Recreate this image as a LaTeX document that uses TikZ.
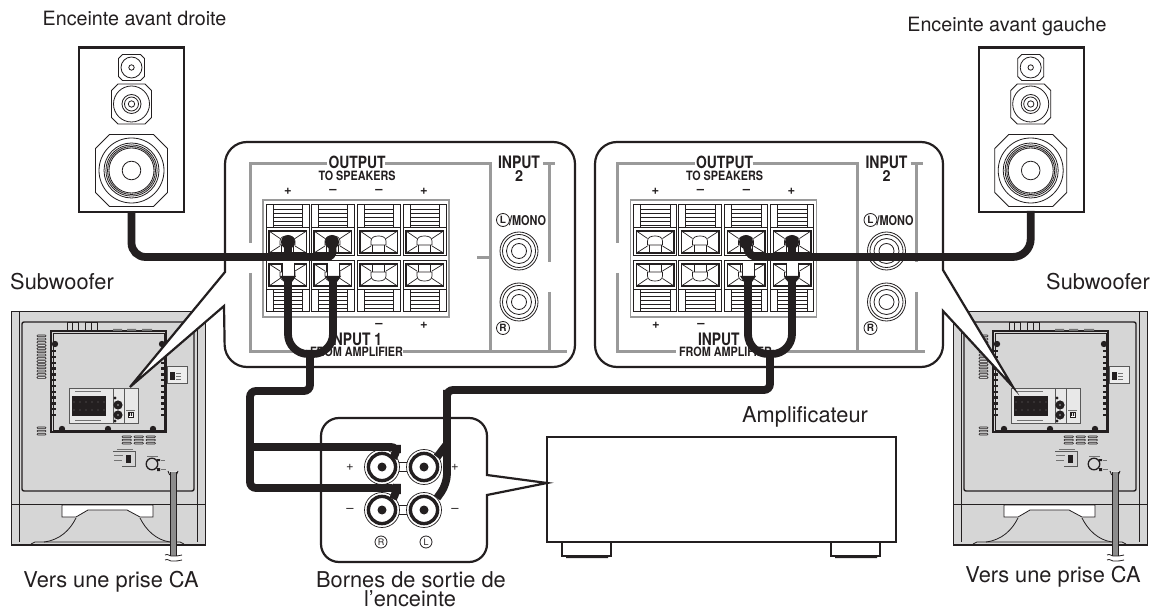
\documentclass[tikz,border=0pt]{standalone}
\usepackage{fontspec}
\setmainfont{TeX Gyre Heros}
\definecolor{ink}{HTML}{231F20}
\definecolor{rule}{HTML}{9A9A9A}
\definecolor{subg}{HTML}{D6D6D6}
\tikzset{
  cable/.style={draw=ink,line width=7.8pt,rounded corners=10pt},
  heavy/.style={draw=ink,line width=2.6pt},
  panel/.style={draw=ink,line width=2.2pt,fill=white,line join=miter},
  fine/.style={draw=ink,line width=.8pt},
  grayline/.style={draw=rule,line width=3pt},
  caption/.style={inner sep=0pt,anchor=base,font=\fontsize{21.8}{24}\selectfont,text=ink},
  caption2/.style={inner sep=0pt,anchor=base,font=\fontsize{19.7}{22}\selectfont,text=ink},
  tinylbl/.style={inner sep=0pt,anchor=center,text=ink},
  signmark/.style={inner sep=0pt,font=\fontsize{13}{13}\selectfont\bfseries,text=ink},
  ringlbl/.style={circle,draw=ink,line width=.8pt,inner sep=0pt,minimum size=13pt,font=\fontsize{10}{10}\selectfont\bfseries,text=ink}
}
\newcommand\fitlbl[3]{\resizebox{#1pt}{#2pt}{\bfseries #3}}
% octagon: cx cy half cut
\newcommand\octa[4]{\draw[fine] ({#1-#3},{#2-#3+#4}) -- ({#1-#3+#4},{#2-#3}) -- ({#1+#3-#4},{#2-#3}) -- ({#1+#3},{#2-#3+#4}) -- ({#1+#3},{#2+#3-#4}) -- ({#1+#3-#4},{#2+#3}) -- ({#1-#3+#4},{#2+#3}) -- ({#1-#3},{#2+#3-#4}) -- cycle;}
\newcommand\speaker[3]{%
  \draw[heavy,fill=white] (#1,47.5) rectangle (#2,212);
  \octa{#3}{67.5}{13}{4}
  \draw[fine] (#3,67.5) circle (10.5) (#3,67.5) circle (2.7);
  \octa{#3}{104}{20}{6.5}
  \draw[fine] (#3,104) circle (18) (#3,104) circle (9.5) (#3,104) circle (7) (#3,104) circle (3.2);
  \octa{#3}{170.5}{36}{14}
  \draw[fine] (#3,170.5) circle (32.5) (#3,170.5) circle (27.5) (#3,170.5) circle (25.6) (#3,170.5) circle (24) (#3,170.5) circle (22.5) (#3,170.5) circle (9.3);
}
% one terminal cell, x, y0, sign
\newcommand\cellbox[3]{%
\begin{scope}[shift={(#1,#2)},yscale=#3]
  \draw[draw=ink,line width=1pt,fill=white] (0,0) rectangle (43,51);
  \draw[fine] (0,22.5) -- (43,22.5) (7,0) -- (7,22.5) (36.5,0) -- (36.5,22.5);
  \foreach \yy in {4,8,12,16,20}{\draw[draw=ink,line width=.6pt] (7,\yy) -- (36.5,\yy);}
  \draw[draw=ink,line width=1.1pt] (3,26) rectangle (40.5,48);
  \draw[draw=ink,line width=.7pt] (3,26) -- (14,33.5) (3,48) -- (14,41) (40.5,26) -- (29,33.5) (40.5,48) -- (29,41);
  \draw[draw=ink,line width=.7pt] (15.5,48) -- (15.5,40) (27.5,48) -- (27.5,40);
  \draw[draw=ink,line width=.7pt] (14,40) -- (14,36) .. controls (14,32) and (18,31) .. (21.5,31) .. controls (25,31) and (29,32) .. (29,36) -- (29,40) -- cycle;
\end{scope}}
\newcommand\terminalpanel[2]{% x offset, name prefix: contents of the framed panel
\begin{scope}[shift={(#1,0)}]
  \draw[grayline] (327,163.5) -- (250,163.5) -- (250,243);
  \draw[grayline] (250,273) -- (250,352) -- (306,352);
  \draw[grayline] (385,163.5) -- (490,163.5) -- (490,352);
  \draw[grayline] (477,258) -- (490,258);
  \draw[grayline] (543,163.5) -- (555,163.5);
  \draw[grayline] (549,163.5) -- (549,262);
  \draw[grayline] (549,292) -- (549,352);
  \node[tinylbl] (#2o) at (357,162) {\fitlbl{57}{12.5}{OUTPUT}};
  \node[tinylbl] (#2t) at (357,175.5) {\fitlbl{77}{9.5}{TO SPEAKERS}};
  \node[tinylbl] (#2i) at (519,162) {\fitlbl{42}{12.5}{INPUT}};
  \node[tinylbl] (#2j) at (519,176) {\fitlbl{8}{11}{2}};
  \node[ringlbl] (#2l) at (503,220) {L};
  \node[tinylbl] (#2m) at (527.5,220.5) {\fitlbl{37}{10}{/MONO}};
  \node[ringlbl] (#2r) at (503,328) {R};
  \draw[draw=rule,line width=1.2pt,fill=white] (263,200) rectangle (449,317);
  \foreach \cx in {266,311,357,403}{\cellbox{\cx}{205}{1}\cellbox{\cx}{312}{-1}}
  \foreach \yy in {251,302}{
    \draw[fine] (519,\yy) circle (19) (519,\yy) circle (16.5) (519,\yy) circle (12.5) (519,\yy) circle (7.5);
  }
  \node[signmark] (#2a) at (288,191) {+};
  \node[signmark] (#2b) at (333,191) {–};
  \node[signmark] (#2c) at (379,191) {–};
  \node[signmark] (#2d) at (424,191) {+};
\end{scope}}
\newcommand\subwoofer[1]{%
\begin{scope}[shift={(#1,0)}]
  \draw[draw=ink,line width=.8pt,fill=subg] (11,311) rectangle (205,545);
  \draw[draw=ink,line width=.8pt] (19,311) -- (19,504) (197,311) -- (197,504) (19,504) -- (19,542) (197,504) -- (197,542);
  \draw[draw=ink,line width=1.4pt,rounded corners=2pt] (22,322) rectangle (194,491);
  \draw[draw=ink,line width=1pt] (11,504) -- (205,504);
  \draw[draw=ink,line width=1.6pt] (11,545) -- (205,545);
  \draw[draw=ink,line width=.8pt,fill=white] (62,505) -- (153,505) -- (153,517) -- (140,517) -- (127,510) -- (88,510) -- (76,517) -- (62,517) -- cycle;
  \draw[fine] (76,518) .. controls (70,530) and (60,540) .. (44,542);
  \draw[fine] (140,518) .. controls (146,530) and (156,540) .. (170,542);
  \draw[fine] (31,544) -- (35,542) -- (180,542) -- (184,544);
  % rear plate
  \draw[draw=ink,line width=1.2pt] (51,331) rectangle (166,432);
  \draw[draw=ink,line width=.6pt] (53,333) rectangle (164,430);
  \draw[draw=ink,line width=.8pt,fill=subg] (67,322) rectangle (78,330);
  \draw[draw=ink,line width=.8pt,fill=subg] (85,322) rectangle (97,330);
  \draw[draw=ink,line width=.6pt] (72.5,322) -- (72.5,330) (91,322) -- (91,330);
  \fill[black!55] (113,329) rectangle (122,331) (127,329) rectangle (136,331) (142,329) rectangle (152,331);
  \foreach \xx/\yy in {55/344,162/344,62/429,108/429,153/429}{\fill[ink] (\xx,\yy) circle (3.2);}
  \foreach \yy in {350,355.8,...,418}{
    \fill[ink] (51,\yy) rectangle (56,{\yy+2.5});
    \fill[ink] (161,\yy) rectangle (166,{\yy+2.5});
  }
  \foreach \yy in {335,338.2,...,377}{\draw[draw=ink,line width=.6pt,rounded corners=.8pt] (37,\yy) rectangle (46,{\yy+1.8});}
  \foreach \yy in {427,430.2,433.4}{\draw[draw=ink,line width=.6pt,rounded corners=.8pt] (37,\yy) rectangle (46,{\yy+1.6});}
  \foreach \xx in {122,134,146}{\foreach \yy in {436,439.2,442.4}{\draw[draw=ink,line width=.6pt,rounded corners=.8pt] (\xx,\yy) rectangle ({\xx+9.5},{\yy+1.6});}}
  % connection block
  \draw[draw=black!65,line width=.6pt,fill=black!9] (69,388) rectangle (138,423);
  \draw[draw=black!65,line width=.6pt] (113,388) -- (113,423) (124,388) -- (124,423);
  \fill[ink] (71.5,396) rectangle (106,416);
  \foreach \yy in {402,410}{\foreach \xx in {74,80,...,104}{\fill[white] (\xx,\yy) circle (.4);}}
  \foreach \yy in {405,415}{\fill[ink] (118,\yy) circle (4.6); \fill[black!50] (118,\yy) circle (1.1);}
  \fill[ink] (115,398) circle (1.6) (115,421) circle (1.6);
  \draw[draw=ink,line width=.5pt,fill=white] (128,412) rectangle (133,417);
  \fill[ink] (129,413) rectangle (130.2,416) (131,413) rectangle (132.2,416);
  \draw[draw=black!55,line width=.4pt] (75,391) -- (101,391) (75,420) -- (101,420) (126,410) -- (135,410);
  % side switch
  \draw[draw=black!65,line width=.6pt,fill=black!7] (167,366) rectangle (187,383);
  \fill[ink] (170,372) rectangle (175,380);
  \draw[draw=black!55,line width=.4pt] (176,373) -- (181,373) (176,376) -- (181,376) (176,379) -- (181,379);
  % control box
  \draw[draw=black!65,line width=.5pt] (113,451) -- (135,451) -- (135,466) -- (122,466);
  \fill[ink] (125.5,455) rectangle (130.5,463);
  \draw[draw=black!55,line width=.4pt] (114,455) -- (123,455) (114,460) -- (122,460) (117,449) -- (133,449);
  \draw[draw=ink,line width=1.3pt,fill=subg] (152,464) circle (5.8);
  \fill[ink] (157,459) rectangle (160,461) (157,468) rectangle (160,471);
  \draw[draw=black!55,line width=.4pt] (161,460) -- (165,460) (161,469.5) -- (166,469.5) (147,456) -- (158,456);
  % mains lead
  \draw[draw=ink,line width=.9pt,fill=black!12] (168,471) arc[start angle=180,end angle=0,radius=5];
  \draw[draw=black!45,line width=5pt] (173,472) -- (173,556);
  \draw[draw=ink,line width=.9pt] (170,472) -- (170,556) (176,472) -- (176,556);
  \draw[fine] (165,555) .. controls (168,553) and (170,557) .. (173,556) .. controls (176,555) and (179,557) .. (182,555);
  \draw[fine] (165,560) .. controls (168,558) and (170,562) .. (173,561) .. controls (176,560) and (179,562) .. (182,560);
\end{scope}}
\begin{document}
\begin{tikzpicture}[x=1pt,y=-1pt]
\useasboundingbox (0,0) rectangle (1154,609);
\fill[white] (0,0) rectangle (1154,609);

% captions
\node[caption2] (capfr) at (134.5,26) {Enceinte avant droite};
\node[caption2] (capfl) at (1007,32) {Enceinte avant gauche};
\node[caption] (capsl) at (62,290) {Subwoofer};
\node[caption] (capsr) at (1098,290) {Subwoofer};
\node[caption] (capac) at (111,587) {Vers une prise CA};
\node[caption] (capar) at (1053,582) {Vers une prise CA};
\node[caption] (capb1) at (411,587) {Bornes de sortie de};
\node[caption] (capb2) at (410,606.5) {l’enceinte};
\node[caption] (capamp) at (805,423) {Amplificateur};

% speakers
\speaker{79}{184}{131.5}
\speaker{979}{1084}{1030.7}

% subwoofers
\subwoofer{0}
\subwoofer{942}

% framed panels with callouts
\draw[panel,rounded corners=22pt] (225,272) -- (225,142) -- (575,142) -- (575,367) -- (225,367) [rounded corners=0pt] -- (224,306) -- (130,387) -- cycle;
\draw[panel,rounded corners=22pt] (943,270) -- (943,142) -- (595,142) -- (595,367) -- (943,367) [rounded corners=0pt] -- (943,311) -- (1013,387) -- cycle;

\terminalpanel{0}{la}
\terminalpanel{367.5}{ra}

\draw[grayline] (403,352) -- (567,352);
\draw[grayline] (772,352) -- (925,352);
\draw[grayline] (618,352) -- (676,352);

\node[signmark] (lm1) at (379,325) {–};
\node[signmark] (lp1) at (424,325) {+};
\node[signmark] (rp1) at (656,325) {+};
\node[signmark] (rm1) at (701,325) {–};

\node[tinylbl] (lin) at (355.5,339) {\fitlbl{53}{12.5}{INPUT 1}};
\node[tinylbl] (lfr) at (356.5,352) {\fitlbl{93}{9.5}{FROM AMPLIFIER}};
\node[tinylbl] (rin) at (724.5,339) {\fitlbl{53}{12.5}{INPUT 1}};
\node[tinylbl] (rfr) at (725.5,352) {\fitlbl{93}{9.5}{FROM AMPLIFIER}};

% amplifier
\draw[heavy,fill=white] (547,437) rectangle (896,542);
\draw[draw=ink,line width=2pt] (562,542) -- (562,556) -- (611,556) -- (611,542);
\draw[draw=ink,line width=2pt] (831,542) -- (831,556) -- (880,556) -- (880,542);
\fill[ink] (566,555) rectangle (608,558) (835,555) rectangle (877,558);

% amplifier terminal panel
\draw[panel,rounded corners=18pt] (487,475) -- (487,418) -- (321,418) -- (321,562) -- (487,562) [rounded corners=0pt] -- (487,495) -- (547,483) -- cycle;
\foreach \jx/\jy in {382/467,424/467,382/510,424/510}{
  \draw[draw=ink,line width=.7pt,fill=white] (\jx,\jy) circle (17.5);
  \draw[draw=ink,line width=3.4pt,fill=white] (\jx,\jy) circle (13.6);
  \fill[ink] (\jx,\jy) circle (4.5);
}
\draw[draw=ink,line width=.7pt] (399,462.5) -- (407,462.5) (399,471.5) -- (407,471.5) (399,505.5) -- (407,505.5) (399,514.5) -- (407,514.5);
\node[font=\fontsize{13}{13}\selectfont,inner sep=0pt,text=ink] (bp1) at (350,467) {+};
\node[font=\fontsize{13}{13}\selectfont,inner sep=0pt,text=ink] (bp2) at (455,467) {+};
\node[font=\fontsize{13}{13}\selectfont,inner sep=0pt,text=ink] (bm1) at (350,510) {–};
\node[font=\fontsize{13}{13}\selectfont,inner sep=0pt,text=ink] (bm2) at (455,510) {–};
\node[ringlbl,minimum size=12pt,font=\fontsize{9}{9}\selectfont] (br) at (381,542) {R};
\node[ringlbl,minimum size=12pt,font=\fontsize{9}{9}\selectfont] (bl) at (426,542) {L};

% cable anchor points
\coordinate (spR) at (131.5,212);
\coordinate (spL) at (1030.7,211);
\coordinate (tA) at (288,242);
\coordinate (tB) at (332,242);
\coordinate (tC) at (746,242);
\coordinate (tD) at (792,242);
\coordinate (tE) at (288,278);
\coordinate (tF) at (333,278);
\coordinate (tG) at (748,278);
\coordinate (tH) at (792,278);
\coordinate (jA) at (393,458);
\coordinate (jB) at (393,499);
\coordinate (jC) at (437,457);
\coordinate (jD) at (437,498);

% spade terminals (white stems)
\foreach \cn in {tE,tF,tG,tH}{\fill[white] ([xshift=-6pt,yshift=15pt]\cn) rectangle ([xshift=6pt,yshift=0pt]\cn);
  \draw[fine] ([xshift=-6pt,yshift=15pt]\cn) -- ([xshift=-6pt,yshift=0pt]\cn) ([xshift=6pt,yshift=15pt]\cn) -- ([xshift=6pt,yshift=0pt]\cn);
  \fill[ink] ([xshift=-8pt,yshift=2pt]\cn) -- ([xshift=8pt,yshift=2pt]\cn) -- ([xshift=4pt,yshift=-4pt]\cn) -- ([xshift=-4pt,yshift=-4pt]\cn) -- cycle;}
\foreach \cn in {tA,tB,tC,tD}{\fill[ink] (\cn) circle (7);}

% cables
\draw[cable,rounded corners=14pt] (spR) -- (131.5,257) -- (288,257);
\draw[cable,rounded corners=6pt] (280,257) -- (333,257) -- (tB);
\draw[cable,rounded corners=0pt] (tA) -- (288,257);
\draw[cable,rounded corners=18pt] (spL) -- (1030.7,257) -- (790,257);
\draw[cable,rounded corners=8pt] (800,257) -- (749,257) -- (tC);
\draw[cable,rounded corners=0pt] (tD) -- (792,257);

\draw[cable,rounded corners=20pt] (tE) -- (288,354) -- (333,354) -- (tF);
\draw[cable,rounded corners=6pt] (310,350) -- (310,391) -- (250,391) -- (250,488) -- (397,488) -- (397,490) -- (jB);
\draw[cable,rounded corners=6pt] (250,447) -- (397,447) -- (397,451) -- (jA);
\draw[cable,rounded corners=20pt] (tG) -- (748,354) -- (792,354) -- (tH);
\draw[cable,rounded corners=6pt] (770,350) -- (770,390) -- (447,390) -- (447,445);
\draw[cable,rounded corners=10pt] (447,390) -- (447,484) -- (jD);
\draw[cable,rounded corners=0pt] (447,444) -- (jC);
\end{tikzpicture}
\end{document}
